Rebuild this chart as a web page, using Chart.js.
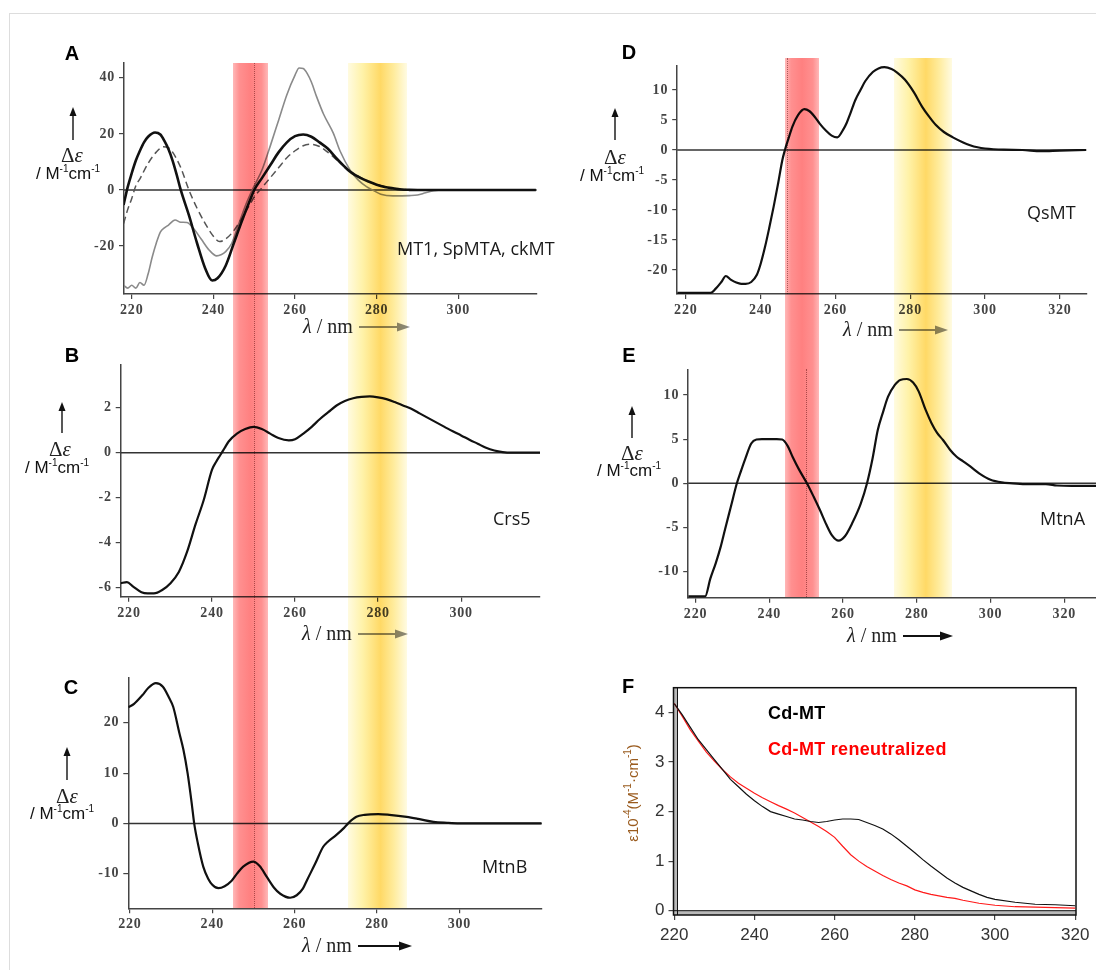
<!DOCTYPE html>
<html>
<head>
<meta charset="utf-8">
<script src="https://cdn.jsdelivr.net/npm/chart.js@4.4.1/dist/chart.umd.min.js"></script>
<style>
  body { margin: 0; background: #fff; }
  #page { position: relative; width: 1096px; height: 970px; overflow: hidden; background: #fff;
          font-family: "Liberation Sans", Arial, sans-serif; }
  #frame { position: absolute; left: 9px; top: 13px; width: 1100px; height: 980px; border: 1px solid #ddd; }
  canvas { position: absolute; }
  .t { position: absolute; transform: translate(-50%, -50%); white-space: nowrap; line-height: 1; }
  .l { position: absolute; transform: translateY(-50%); white-space: nowrap; line-height: 1; }
  .lab { font-weight: bold; font-size: 20px; color: #000; }
  .sample { font-family: "Open Sans", sans-serif; font-size: 18px; color: #1a1a1a; }
  .de { font-family: "Liberation Serif", serif; font-size: 21px; color: #222; }
  .unit { font-size: 17px; color: #111; }
  sup { font-size: 10px; vertical-align: 7px; line-height: 0; }
  .xt { font-family: "Liberation Serif", serif; font-size: 20px; color: #222; }
  .band { position: absolute; mix-blend-mode: multiply; pointer-events: none; }
  svg { position: absolute; overflow: visible; }
</style>
</head>
<body>
<div id="page">
  <div id="frame"></div>
</div>
<script>
// ---- tick labels ----
const leftTicksX = [220, 240, 260, 280, 300];
const rightTicksX = [220, 240, 260, 280, 300, 320];
const aTicksY = [-20, 0, 20, 40];
const bTicksY = [-6, -4, -2, 0, 2];
const cTicksY = [-10, 0, 10, 20];
const dTicksY = [-20, -15, -10, -5, 0, 5, 10];
const eTicksY = [-10, -5, 0, 5, 10];
const fTicksY = [0, 1, 2, 3, 4];

// ---- panel A : MT1 (black), SpMTA (dashed), ckMT (grey) ----
const aWlMt1 = [218,219,220,221,222,223,224,225.7,227,228,229,230,231,232,234,236,238,239.7,241,243,245,247,249,250,252,254,256,258,260,262,264,266,268,270,272,273.5,276,278,280,282,284,286,288,290,300,310,319];
const aMt1   = [-5.3,1,6,10.5,14,17,19,20.5,19.8,17.5,14.5,10.5,5.5,0,-9,-19,-28,-32.3,-31.5,-27,-19,-11,-3.5,0,4.5,9,13.5,17,19.2,19.8,19,17,14.8,11.5,8.5,6.5,4.3,3,1.9,1.1,0.6,0.2,0.05,0,0,0,0];
const aWlSp  = [218,219,220,221,222,224,226,227.7,229,230,232,234,236,238,240,241.5,243,245,247,249,250,252,254,256,258,260,262,264,266,268,270,272,274,276,278,280,282,284,286,288,290,300,310,319];
const aSpMTA = [-12,-7,-3,1.5,4,9.5,13.5,15.4,15,13.5,8,0,-6.5,-12,-16.5,-18.4,-17.5,-14.5,-10,-5,-2.5,1,4.5,8,11.5,14,15.8,16.3,15.5,13.5,11,8.5,6.3,4.5,3,2,1.2,0.6,0.3,0.1,0,0,0,0];
const aWlCk  = [218,219,220,221,222,223,224,225,226,227,228,229,230.6,232,233.5,235,237,239,240.8,242,243,244.5,246,248,249.5,252,254,256,258,260,261,262,263,264,265.3,267,269.4,271,273.5,275.5,277.5,279,281,284,288,290,292,294,296,300,310,319];
const aCkMT  = [-34,-35,-34,-35,-33,-34,-30,-24,-19,-15,-13.5,-12.5,-10.7,-11.5,-11.6,-13.5,-17.5,-21.5,-23.5,-23,-22,-19,-13,-5,0,7.5,16,25,34,41,43.5,43.3,41.5,38.5,33.2,27,20.2,14,7.1,3.5,1.2,0,-1.5,-2.1,-2,-1.8,-1,-0.3,0,0,0,0];

// ---- panel B : Crs5 ----
const bWl   = [218,219.5,221,223,224.5,226,228,230,232,234,236,238,240,241,242,243,244,246,248,250,252,254,256,258.5,260,262,264,266,268,270,272,274,276,278,280,282,284,286,288,290,292,294,296,298,300,302,304,306,308,310,312,319];
const bCrs5 = [-5.8,-5.75,-5.95,-6.2,-6.25,-6.25,-6.1,-5.8,-5.3,-4.4,-3.2,-2.1,-0.75,-0.4,-0.1,0.2,0.5,0.85,1.05,1.15,1.05,0.85,0.65,0.55,0.6,0.85,1.15,1.5,1.8,2.1,2.3,2.42,2.48,2.5,2.46,2.38,2.25,2.1,1.95,1.75,1.55,1.35,1.15,0.95,0.77,0.58,0.4,0.22,0.1,0.03,0,0];

// ---- panel C : MtnB ----
const cWl   = [219.6,221,223,224.5,226.3,228,229.5,230.5,232,233,234,235,235.6,236.5,237.8,239,240,241.5,243,244.7,246,247.5,250,251.5,253.2,255,256.5,258.9,260.5,262,263,265,266.9,268,270,272,273,275,277,280.3,283,287.2,290,293.7,297,300,310,320];
const cMtnB = [23.1,23.8,25.5,27,27.9,27.2,25,23.2,18,14.6,10,4,0,-4,-8.6,-11,-12.2,-12.9,-12.5,-11.4,-10,-8.6,-7.6,-8.5,-10.6,-12.8,-14,-14.8,-14.3,-13,-11.3,-8,-4.7,-3.7,-2.4,-0.9,0,1.3,1.7,1.85,1.7,1.3,0.9,0.3,0.1,0,0,0];

// ---- panel D : QsMT ----
const dWl   = [217.7,222,226.6,228,229.5,230.7,232,233.5,234.8,236,237.5,239,240,241.2,242.3,243.5,244.7,245.8,246.5,247.5,248.5,250,251.7,253,254.5,255.8,257.5,259,260.5,262,263,264,265.3,266.7,268,270,271.5,273.1,275,276.5,278.6,281,283.2,285,286.8,289,291.4,294,296,298,300,305,310,315,320,327];
const dQsMT = [-23.8,-23.8,-23.8,-23.1,-22,-21,-21.6,-22.1,-22.3,-22.3,-22,-20.8,-19,-16.1,-13,-9.4,-5.5,-1.7,0,2,3.9,5.8,6.8,6.5,5.5,4.4,3.2,2.4,2.1,3.3,4.5,6.1,8.3,10,11.5,13,13.6,13.8,13.5,12.9,11.7,9.6,7.2,5.6,4.2,3,2.1,1.3,0.8,0.45,0.25,0.05,0,-0.2,-0.1,0];

// ---- panel E : MtnA ----
const eWl   = [218,222.6,224,225.5,226.8,228,229.6,231.2,232.4,233.5,235.1,236.5,238,240,242,243.5,245,246.3,248,250.2,252,253.7,255.5,257,258.8,260.5,262.5,264.8,266.5,268,269.4,270.8,272.2,274,275.5,277.3,279,280.5,282.4,284,285.5,287.1,289,290.8,292.5,294.5,297,300,303,306,310,315,318,322,328.6];
const eMtnA = [-12.8,-12.8,-10.8,-9,-7.2,-5.2,-2.6,0,1.5,2.8,4.5,4.95,5,5,5,4.95,4.2,3,1.6,0,-1.5,-3,-4.7,-5.9,-6.5,-6,-4.5,-2.3,0,2.8,6,8,9.8,11.1,11.7,11.8,11.4,10.4,8.3,6.8,5.7,4.9,3.8,3,2.5,1.9,1.1,0.4,0.1,0,-0.1,-0.1,-0.25,-0.3,-0.3];

// ---- panel F : absorption ----
const fWl      = [220,222,224,226,228,230,232,234,236,238,240,242,244,246,248,250,252,254,256,258,260,262,264,266,268,270,272,274,276,278,280,282,284,286,288,290,292,294,296,298,300,305,310,315,320];
const fCdMT    = [4.18,3.95,3.7,3.45,3.25,3.05,2.85,2.65,2.5,2.35,2.22,2.1,2.0,1.95,1.9,1.85,1.83,1.8,1.78,1.8,1.83,1.85,1.85,1.84,1.78,1.72,1.65,1.55,1.43,1.3,1.17,1.03,0.9,0.78,0.66,0.56,0.47,0.4,0.33,0.27,0.23,0.17,0.13,0.12,0.1];
const fReneut  = [4.18,3.92,3.65,3.42,3.2,3.02,2.85,2.7,2.57,2.47,2.37,2.28,2.2,2.12,2.05,1.97,1.88,1.79,1.7,1.6,1.48,1.3,1.13,1.0,0.89,0.8,0.71,0.63,0.56,0.5,0.42,0.37,0.33,0.3,0.27,0.25,0.21,0.18,0.15,0.13,0.11,0.08,0.07,0.06,0.05];

// highlighted wavelength bands (nm)
const redBandLeft = [244.8, 253.4];
const yellowBandLeft = [273, 287.4];
const redBandRight = [244.2, 253.5];
const yellowBandRight = [273.8, 289.5];

const page = document.getElementById("page");
const pts = (xs, ys) => xs.map((x, i) => ({ x: x, y: ys[i] }));

const zeroLine = {
  id: "zeroLine",
  beforeDatasetsDraw(chart, args, opts) {
    if (!opts.show) return;
    const a = chart.chartArea;
    const py = chart.scales.y.getPixelForValue(0);
    const ctx = chart.ctx;
    ctx.save();
    ctx.strokeStyle = opts.color;
    ctx.lineWidth = opts.width;
    ctx.beginPath();
    ctx.moveTo(a.left, py);
    ctx.lineTo(a.right, py);
    ctx.stroke();
    ctx.restore();
  }
};

// the boxed frame of panel F
const boxFrame = {
  id: "boxFrame",
  beforeDatasetsDraw(chart, args, opts) {
    if (!opts.show) return;
    const a = chart.chartArea;
    const ctx = chart.ctx;
    const py = chart.scales.y.getPixelForValue(0);
    ctx.save();
    ctx.fillStyle = "#b9b9b9";
    ctx.fillRect(a.left, py, a.right - a.left, a.bottom - py);
    ctx.fillRect(a.left, a.top, 4, a.bottom - a.top);
    ctx.strokeStyle = "#111";
    ctx.lineWidth = 1.5;
    ctx.strokeRect(a.left, a.top, a.right - a.left, a.bottom - a.top);
    ctx.lineWidth = 1;
    ctx.beginPath();
    ctx.moveTo(a.left + 4, a.top);
    ctx.lineTo(a.left + 4, a.bottom);
    ctx.moveTo(a.left, py);
    ctx.lineTo(a.right, py);
    ctx.stroke();
    ctx.restore();
  }
};

function axis(ticks, min, max, font, color, pad, showBorder) {
  return {
    type: "linear",
    min: min,
    max: max,
    border: { display: showBorder, color: "#444", width: 1.5 },
    grid: { display: true, drawOnChartArea: false, drawTicks: true, tickLength: 5, color: "#444", lineWidth: 1.2 },
    ticks: { autoSkip: false, maxRotation: 0, font: font, color: color, padding: pad, callback: v => String(v) },
    afterBuildTicks: s => { s.ticks = ticks.map(v => ({ value: v })); }
  };
}

const serifFont = { family: "Liberation Serif", weight: "bold", size: 14 };
const sansFont = { family: "Liberation Sans", size: 17 };

function panel(box, area, xr, yr, xt, yt, datasets, opts) {
  opts = opts || {};
  const cv = document.createElement("canvas");
  cv.width = box[2];
  cv.height = box[3];
  cv.style.left = box[0] + "px";
  cv.style.top = box[1] + "px";
  cv.style.width = box[2] + "px";
  cv.style.height = box[3] + "px";
  if (!opts.sans) cv.style.letterSpacing = "0.8px";
  page.appendChild(cv);
  const font = opts.sans ? sansFont : serifFont;
  const color = opts.sans ? "#333" : "#444";
  const x = axis(xt, xr[0], xr[1], font, color, opts.sans ? 5 : 3, !opts.sans);
  const y = axis(yt, yr[0], yr[1], font, color, 4, !opts.sans);
  x.afterFit = s => { s.height = box[1] + box[3] - area[3]; };
  y.afterFit = s => { s.width = area[0] - box[0]; };
  const chart = new Chart(cv, {
    type: "line",
    data: { datasets: datasets },
    options: {
      responsive: false,
      animation: false,
      devicePixelRatio: 1,
      layout: { padding: { left: 0, top: area[1] - box[1], right: box[0] + box[2] - area[2], bottom: 0 } },
      elements: { point: { radius: 0 } },
      plugins: {
        legend: { display: false },
        tooltip: { enabled: false },
        zeroLine: { show: !opts.sans, color: "#333", width: 1.5 },
        boxFrame: { show: !!opts.sans }
      },
      scales: { x: x, y: y }
    },
    plugins: [zeroLine, boxFrame]
  });
  chart.$left = box[0];
  chart.$top = box[1];
  return chart;
}

const line = (xs, ys, color, width, extra) => Object.assign({
  data: pts(xs, ys), borderColor: color, borderWidth: width,
  cubicInterpolationMode: "monotone", fill: false
}, extra || {});

const chartA = panel([0, 40, 550, 300], [124, 62.7, 536.7, 294], [218.1, 319.2], [-37.1, 45.4], leftTicksX, aTicksY, [
  line(aWlMt1, aMt1, "#111", 2.6),
  line(aWlSp, aSpMTA, "#555", 1.5, { borderDash: [7, 4] }),
  line(aWlCk, aCkMT, "#8a8a8a", 1.6)
]);
const chartB = panel([0, 340, 550, 300], [120.7, 364.3, 540, 596.7], [218, 319], [-6.4, 3.93], leftTicksX, bTicksY, [
  line(bWl, bCrs5, "#111", 2.2)
]);
const chartC = panel([0, 650, 550, 310], [128.3, 677.3, 541.7, 908.3], [219.6, 320], [-16.9, 29.07], leftTicksX, cTicksY, [
  line(cWl, cMtnB, "#111", 2.2)
]);
const chartD = panel([560, 40, 536, 300], [677.2, 66, 1086.4, 294], [217.7, 327.1], [-24, 14], rightTicksX, dTicksY, [
  line(dWl, dQsMT, "#111", 2.2)
]);
const chartE = panel([560, 340, 536, 300], [688.2, 369.3, 1096, 597.7], [218, 328.6], [-12.95, 12.9], rightTicksX, eTicksY, [
  line(eWl, eMtnA, "#111", 2.2)
]);
const chartF = panel([560, 660, 536, 305], [673.5, 687.7, 1076, 915], [219.8, 320.2], [-0.087, 4.5], rightTicksX, fTicksY, [
  line(fWl, fCdMT, "#111", 1.2, { cubicInterpolationMode: "default", tension: 0 }),
  line(fWl, fReneut, "#ff1a1a", 1.2, { cubicInterpolationMode: "default", tension: 0 })
], { sans: true });

// ---- text helpers ----
function text(cls, x, y, html, style) {
  const d = document.createElement("div");
  d.className = cls;
  d.style.left = x + "px";
  d.style.top = y + "px";
  if (style) d.style.cssText += style;
  d.innerHTML = html;
  page.appendChild(d);
  return d;
}
function upArrow(x, y1, y2, color) {
  const s = document.createElementNS("http://www.w3.org/2000/svg", "svg");
  s.setAttribute("width", 10);
  s.setAttribute("height", y2 - y1);
  s.style.left = (x - 5) + "px";
  s.style.top = y1 + "px";
  const h = y2 - y1;
  s.innerHTML = `<line x1="5" y1="${h}" x2="5" y2="7" stroke="${color}" stroke-width="1.4"/>` +
    `<polygon points="5,0 1.5,9 8.5,9" fill="${color}"/>`;
  page.appendChild(s);
}
function rightArrow(x1, x2, y, color) {
  const w = x2 - x1;
  const s = document.createElementNS("http://www.w3.org/2000/svg", "svg");
  s.setAttribute("width", w);
  s.setAttribute("height", 10);
  s.style.left = x1 + "px";
  s.style.top = (y - 5) + "px";
  s.innerHTML = `<line x1="0" y1="5" x2="${w - 8}" y2="5" stroke="${color}" stroke-width="2"/>` +
    `<polygon points="${w},5 ${w - 13},0.5 ${w - 13},9.5" fill="${color}"/>`;
  page.appendChild(s);
}
function yTitle(ax, ay1, ay2, dx, dy, ux, uy) {
  upArrow(ax, ay1, ay2, "#111");
  text("t de", dx, dy, "&Delta;<i>&epsilon;</i>");
  text("t unit", ux, uy, "/ M<sup>-1</sup>cm<sup>-1</sup>");
}
function xTitle(x, y, ax2, color) {
  text("l xt", x, y, "<i>&lambda;</i> / nm");
  rightArrow(x + 56, ax2, y + 1, color);
}

// panel letters
text("t lab", 72, 53, "A");
text("t lab", 72, 355, "B");
text("t lab", 71, 687, "C");
text("t lab", 629, 52, "D");
text("t lab", 629, 355, "E");
text("t lab", 628, 686, "F");

// y titles
yTitle(72.7, 107, 140, 72, 155, 68, 173);
yTitle(61.7, 402, 433, 60, 449, 57, 467);
yTitle(66.7, 747, 780, 67, 796, 62, 813);
yTitle(614.7, 108, 140, 615, 157, 612, 175);
yTitle(632, 406, 438, 632, 453, 629, 470);

// x titles
xTitle(303, 326, 410, "#8a8a8a");
xTitle(302, 633, 408, "#8a8a8a");
xTitle(302, 945, 412, "#111");
xTitle(843, 329, 948, "#8a8a8a");
xTitle(847, 635, 953, "#111");

// sample names
text("l sample", 397, 248, "MT1, SpMTA, ckMT");
text("l sample", 493, 518, "Crs5");
text("l sample", 482, 866, "MtnB");
text("l sample", 1027, 212, "QsMT");
text("l sample", 1040, 518, "MtnA");

// panel F texts
text("l", 768, 713, "Cd-MT", "font-weight:bold;font-size:18px;color:#000;letter-spacing:0.3px");
text("l", 768, 749, "Cd-MT reneutralized", "font-weight:bold;font-size:18px;color:#ff0000;letter-spacing:0.3px");
text("t", 632, 793, "&epsilon;10<sup>-4</sup>(M<sup>-1</sup>&middot;cm<sup>-1</sup>)",
  "font-size:15px;color:#9a5b1e;transform:translate(-50%,-50%) rotate(-90deg)");

// ---- highlight bands (positioned through the chart x scales) ----
const redGrad = "linear-gradient(90deg, #ffb8b8 0%, #ff9090 18%, #ff8080 50%, #ff9090 82%, #ffb8b8 100%)";
const yellowGrad = "linear-gradient(90deg, #fffbe0 0%, #fff2a8 25%, #ffd966 55%, #ffec9e 78%, #fffbe2 100%)";
function band(chart, nm, y1, y2, bg) {
  const s = chart.scales.x;
  const x1 = chart.$left + s.getPixelForValue(nm[0]);
  const x2 = chart.$left + s.getPixelForValue(nm[1]);
  const d = document.createElement("div");
  d.className = "band";
  d.style.left = x1 + "px";
  d.style.top = y1 + "px";
  d.style.width = (x2 - x1) + "px";
  d.style.height = (y2 - y1) + "px";
  d.style.background = bg;
  page.appendChild(d);
}
function dotted(chart, nm, y1, y2) {
  const x = chart.$left + chart.scales.x.getPixelForValue(nm);
  const d = document.createElement("div");
  d.className = "band";
  d.style.left = x + "px";
  d.style.top = y1 + "px";
  d.style.height = (y2 - y1) + "px";
  d.style.borderLeft = "1px dotted rgba(90,20,20,0.5)";
  page.appendChild(d);
}
band(chartA, redBandLeft, 62.7, 908, redGrad);
band(chartA, yellowBandLeft, 62.7, 908, yellowGrad);
band(chartE, redBandRight, 58, 597, redGrad);
band(chartE, yellowBandRight, 58, 597, yellowGrad);
dotted(chartA, 250, 62.7, 908);
dotted(chartD, 247, 58, 294);
dotted(chartE, 250, 369, 597);
</script>
</body>
</html>
